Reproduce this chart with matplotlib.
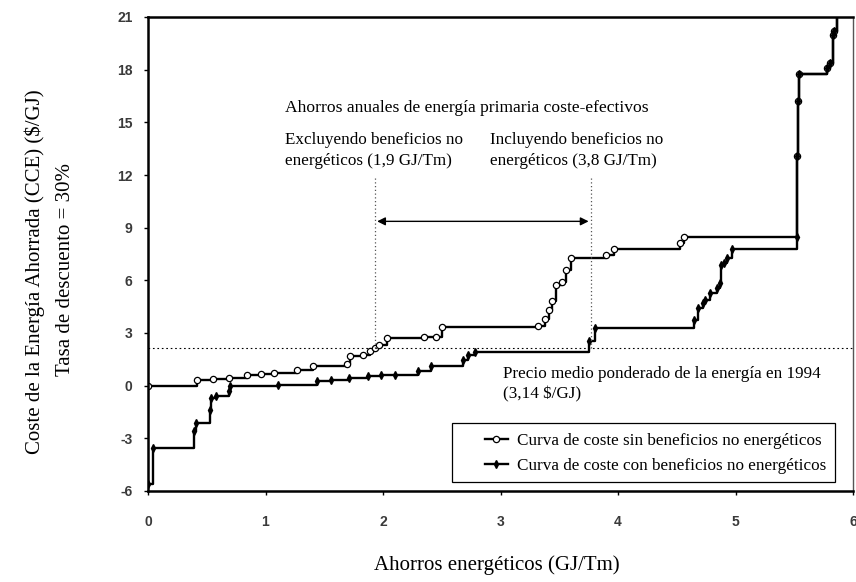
import matplotlib

matplotlib.use("Agg")
import matplotlib.pyplot as plt
from matplotlib.patches import Rectangle

plt.rcParams["axes.unicode_minus"] = False

# curva sin beneficios no energeticos (escalones, steps-post)
sin_x = [0.00, 0.415, 0.55, 0.69, 0.84, 0.96, 1.07, 1.27, 1.40, 1.69, 1.72, 1.83,
         1.89, 1.93, 1.97, 2.03, 2.35, 2.45, 2.50, 3.32, 3.38, 3.41, 3.44, 3.47,
         3.52, 3.56, 3.60, 3.90, 3.97, 4.53, 4.56, 5.52, 5.53, 5.54, 5.78, 5.80,
         5.83, 5.84, 5.86]
sin_y = [0.00, 0.34, 0.40, 0.44, 0.63, 0.68, 0.72, 0.91, 1.14, 1.25, 1.67, 1.77,
         1.95, 2.15, 2.34, 2.72, 2.75, 2.80, 3.34, 3.40, 3.80, 4.30, 4.80, 5.75,
         5.90, 6.60, 7.29, 7.45, 7.79, 8.10, 8.49, 13.07, 16.20, 17.78, 18.10, 18.40,
         20.00, 20.20, 21.30]

# curva con beneficios no energeticos
con_x = [0.00, 0.04, 0.39, 0.41, 0.53, 0.54, 0.58, 0.69, 0.70, 1.11, 1.44, 1.56,
         1.71, 1.87, 1.98, 2.10, 2.30, 2.41, 2.68, 2.72, 2.78, 3.75, 3.80, 4.65,
         4.68, 4.72, 4.74, 4.78, 4.84, 4.87, 4.88, 4.90, 4.93, 4.97, 5.52, 5.52,
         5.53, 5.54, 5.78, 5.80, 5.83, 5.84, 5.86]
con_y = [-5.58, -3.55, -2.60, -2.13, -1.37, -0.70, -0.60, -0.30, 0.00, 0.05, 0.25, 0.34,
         0.44, 0.53, 0.58, 0.63, 0.82, 1.14, 1.48, 1.77, 1.90, 2.52, 3.29, 3.76,
         4.43, 4.70, 4.90, 5.28, 5.57, 5.85, 6.90, 7.00, 7.30, 7.79, 8.49, 13.07,
         16.20, 17.78, 18.10, 18.40, 20.00, 20.20, 21.30]

precio_medio = 2.15
ahorro_sin = 1.93
ahorro_con = 3.77

x_ticks = [0, 1, 2, 3, 4, 5, 6]
y_ticks = [-6, -3, 0, 3, 6, 9, 12, 15, 18, 21]

serif = "Liberation Serif"
fs = 12.3

fig = plt.figure(figsize=(8.56, 5.82), dpi=100)
ax = fig.add_axes([148 / 856, 91 / 582, 705 / 856, 474 / 582])

ax.plot(sin_x, sin_y, drawstyle="steps-post", color="black", lw=1.7,
        marker="o", ms=4.5, mfc="white", mec="black", mew=0.9,
        label="Curva de coste sin beneficios no energéticos")
ax.plot(con_x, con_y, drawstyle="steps-post", color="black", lw=1.7,
        marker="d", ms=4, mfc="black", mec="black",
        label="Curva de coste con beneficios no energéticos")

ax.axhline(precio_medio, color="black", lw=0.8, ls=(0, (1.5, 2.5)))
for xv in (ahorro_sin, ahorro_con):
    ax.plot([xv, xv], [precio_medio, 11.95], color="#555555", lw=0.9,
            ls=(0, (1, 2)))
ax.annotate("", xy=(ahorro_sin + 0.02, 9.36), xytext=(ahorro_con - 0.02, 9.36),
            arrowprops=dict(arrowstyle="<|-|>", color="black", lw=1.0,
                            mutation_scale=12, shrinkA=0, shrinkB=0))

ax.text(1.166, 15.84, "Ahorros anuales de energía primaria coste-efectivos",
        family=serif, fontsize=12.6, ha="left", va="center")
ax.text(1.166, 14.02, "Excluyendo beneficios no", family=serif, fontsize=fs,
        ha="left", va="center")
ax.text(1.166, 12.82, "energéticos (1,9 GJ/Tm)", family=serif, fontsize=fs,
        ha="left", va="center")
ax.text(2.91, 14.02, "Incluyendo beneficios no", family=serif, fontsize=fs,
        ha="left", va="center")
ax.text(2.91, 12.82, "energéticos (3,8 GJ/Tm)", family=serif, fontsize=fs,
        ha="left", va="center")
ax.text(3.02, 0.68, "Precio medio ponderado de la energía en 1994",
        family=serif, fontsize=fs, ha="left", va="center")
ax.text(3.02, -0.51, "(3,14 $/GJ)", family=serif, fontsize=fs,
        ha="left", va="center")

ax.set_xlim(0, 6)
ax.set_ylim(-6, 21)
ax.set_xticks(x_ticks)
ax.set_yticks(y_ticks)
ax.tick_params(axis="both", direction="out", length=3, width=1,
               labelsize=10, labelcolor="#3a3a3a")
ax.tick_params(axis="y", pad=8)
ax.tick_params(axis="x", pad=14)
for lab in ax.get_xticklabels() + ax.get_yticklabels():
    lab.set_fontweight("bold")
    lab.set_family("Liberation Sans")
for side in ("left", "bottom", "top"):
    ax.spines[side].set_linewidth(1.8)
ax.spines["right"].set_linewidth(1.0)
ax.spines["right"].set_color("#555555")

leg = ax.legend(loc="center right", bbox_to_anchor=(0.962, 0.0791),
                borderaxespad=0, borderpad=0, prop={"family": serif, "size": fs},
                handlelength=1.4, handletextpad=0.5, labelspacing=0.55,
                frameon=False)
ax.add_patch(Rectangle((0.4308, 0.0196), 0.5437, 0.1245, transform=ax.transAxes,
                       fill=False, edgecolor="black", lw=0.9, zorder=4))

fig.text(35 / 856, 1 - 272 / 582, "Coste de la Energía Ahorrada (CCE) ($/GJ)",
         family=serif, fontsize=15, rotation=90, ha="center", va="center")
fig.text(65 / 856, 1 - 270 / 582, "Tasa de descuento = 30%",
         family=serif, fontsize=15, rotation=90, ha="center", va="center")
fig.text(497 / 856, 1 - 565 / 582, "Ahorros energéticos (GJ/Tm)",
         family=serif, fontsize=15, ha="center", va="center")

fig.savefig("out.png", dpi=100)
